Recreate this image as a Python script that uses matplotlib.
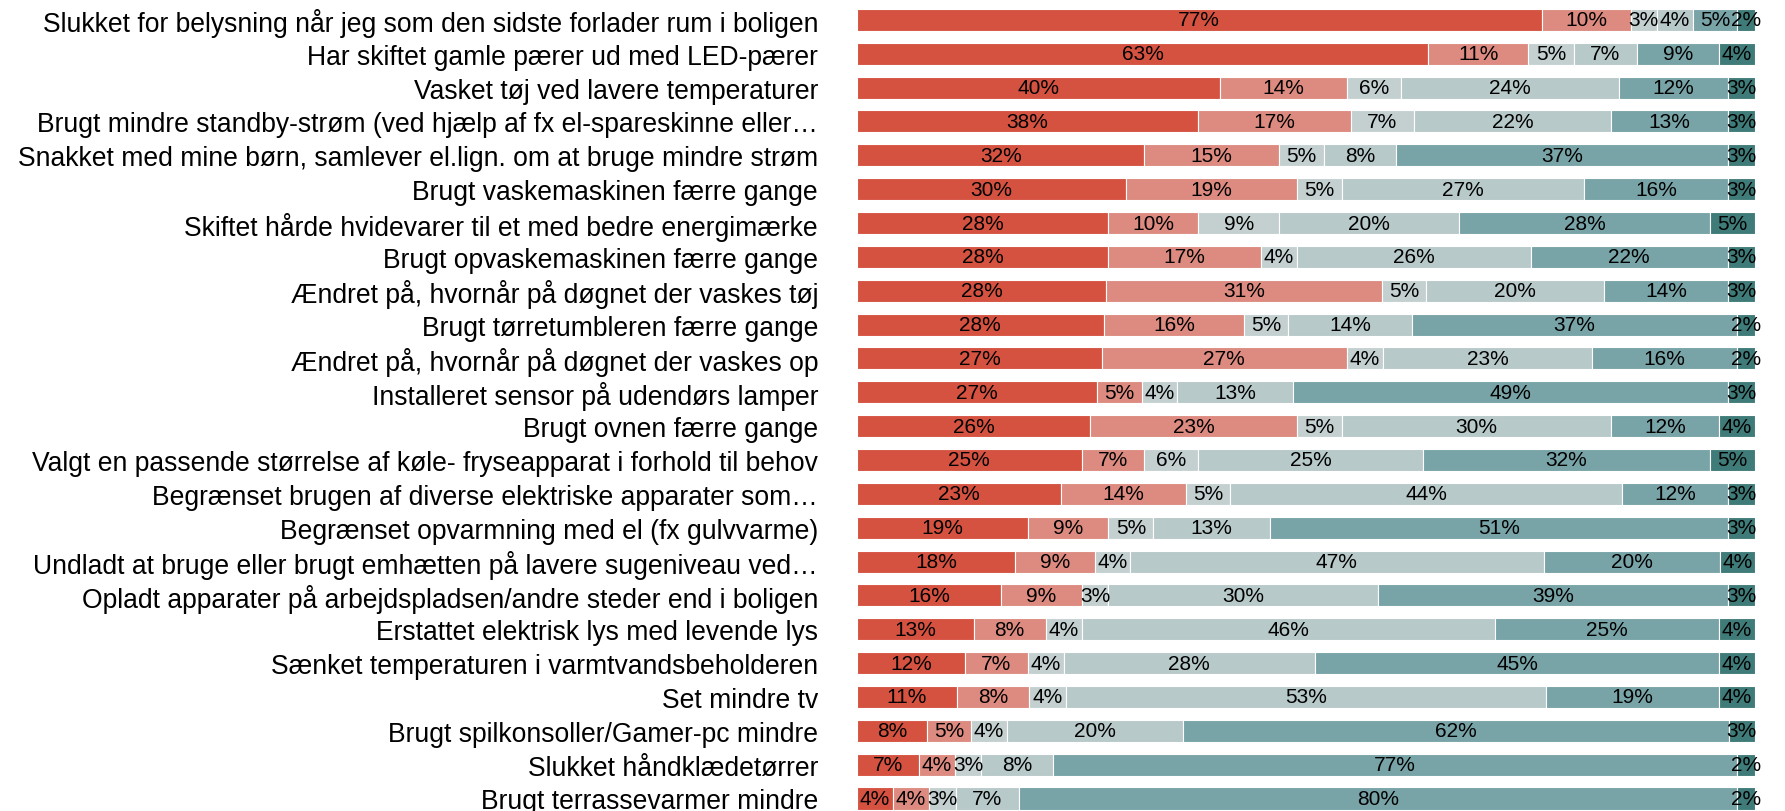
import matplotlib
matplotlib.use("Agg")
import matplotlib.pyplot as plt
import numpy as np

# Spørgsmål (rækker, top til bund)
labels = [
    "Slukket for belysning når jeg som den sidste forlader rum i boligen",
    "Har skiftet gamle pærer ud med LED-pærer",
    "Vasket tøj ved lavere temperaturer",
    "Brugt mindre standby-strøm (ved hjælp af fx el-spareskinne eller…",
    "Snakket med mine børn, samlever el.lign. om at bruge mindre strøm",
    "Brugt vaskemaskinen færre gange",
    "Skiftet hårde hvidevarer til et med bedre energimærke",
    "Brugt opvaskemaskinen færre gange",
    "Ændret på, hvornår på døgnet der vaskes tøj",
    "Brugt tørretumbleren færre gange",
    "Ændret på, hvornår på døgnet der vaskes op",
    "Installeret sensor på udendørs lamper",
    "Brugt ovnen færre gange",
    "Valgt en passende størrelse af køle- fryseapparat i forhold til behov",
    "Begrænset brugen af diverse elektriske apparater som…",
    "Begrænset opvarmning med el (fx gulvvarme)",
    "Undladt at bruge eller brugt emhætten på lavere sugeniveau ved…",
    "Opladt apparater på arbejdspladsen/andre steder end i boligen",
    "Erstattet elektrisk lys med levende lys",
    "Sænket temperaturen i varmtvandsbeholderen",
    "Set mindre tv",
    "Brugt spilkonsoller/Gamer-pc mindre",
    "Slukket håndklædetørrer",
    "Brugt terrassevarmer mindre",
]

# Andele i procent, en liste pr. svarkategori
s1 = [77, 63, 40, 38, 32, 30, 28, 28, 28, 28, 27, 27, 26, 25, 23, 19, 18, 16, 13, 12, 11, 8, 7, 4]
s2 = [10, 11, 14, 17, 15, 19, 10, 17, 31, 16, 27, 5, 23, 7, 14, 9, 9, 9, 8, 7, 8, 5, 4, 4]
s3 = [3, 5, 6, 7, 5, 5, 9, 4, 5, 5, 4, 4, 5, 6, 5, 5, 4, 3, 4, 4, 4, 4, 3, 3]
s4 = [4, 7, 24, 22, 8, 27, 20, 26, 20, 14, 23, 13, 30, 25, 44, 13, 47, 30, 46, 28, 53, 20, 8, 7]
s5 = [5, 9, 12, 13, 37, 16, 28, 22, 14, 37, 16, 49, 12, 32, 12, 51, 20, 39, 25, 45, 19, 62, 77, 80]
s6 = [2, 4, 3, 3, 3, 3, 5, 3, 3, 2, 2, 3, 4, 5, 3, 3, 4, 3, 4, 4, 4, 3, 2, 2]

farver = ["#D55241", "#DD8B80", "#C4D0D0", "#B8C9C9", "#78A4A8", "#3F7B78"]

serier = np.array([s1, s2, s3, s4, s5, s6], dtype=float)
# bjælkerne fylder hele bredden, så hver række skaleres til 100
bredder = serier / serier.sum(axis=0) * 100

fig = plt.figure(figsize=(17.85, 8.12), dpi=100)
ax = fig.add_axes([857 / 1785, 0.0, (1755 - 857) / 1785, 808 / 812])

y = np.arange(len(labels))
venstre = np.zeros(len(labels))
for i in range(len(serier)):
    ax.barh(y, bredder[i], left=venstre, height=0.65, color=farver[i],
            edgecolor="white", linewidth=0.8)
    for r in range(len(labels)):
        ax.text(venstre[r] + bredder[i][r] / 2, y[r], f"{int(serier[i][r])}%",
                ha="center", va="center", fontsize=15,
                family="Liberation Sans", color="black")
    venstre += bredder[i]

ax.set_xlim(0, 100)
ax.set_ylim(23 + 12.5 / 33.85, -0.5)
ax.set_yticks(y)
ax.set_yticklabels(labels, fontsize=19.1, family="Liberation Sans")
ax.tick_params(axis="y", length=0, pad=28)
ax.set_xticks([])
for sp in ax.spines.values():
    sp.set_visible(False)

fig.savefig("out.png", dpi=100)
